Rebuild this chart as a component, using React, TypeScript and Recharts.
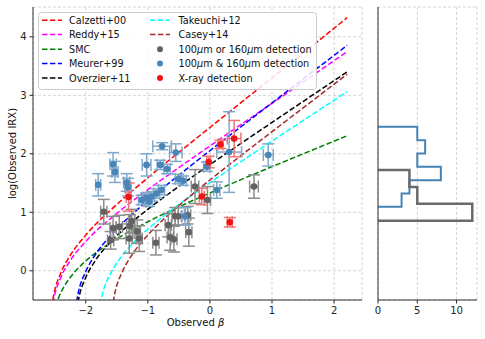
import React from 'react';
import { ComposedChart, Line, Scatter, XAxis, YAxis, CartesianGrid, ErrorBar, Legend, Label } from 'recharts';

// ---------- axis ticks ----------
const xTicks = [-2, -1, 0, 1, 2];
const yTicks = [0, 1, 2, 3, 4];
const histXTicks = [0, 5, 10];
const histYTicks = [1, 2, 3, 4, 5];

// ---------- model curves (beta, log IRX) ----------
const calzettiBeta = [-2.57, -2.52, -2.4, -2.25, -2.0, -1.5, -1.0, -0.5, 0, 0.5, 1.0, 1.5, 2.21];
const calzettiIRX = [-0.767, -0.435, -0.035, 0.262, 0.609, 1.134, 1.59, 2.024, 2.45, 2.874, 3.297, 3.719, 4.327];
const reddyBeta = [-2.57, -2.51, -2.4, -2.25, -2.0, -1.5, -1.0, -0.5, 0, 0.5, 1.0, 1.5, 2.21];
const reddyIRX = [-0.818, -0.453, -0.11, 0.174, 0.501, 0.981, 1.386, 1.765, 2.134, 2.5, 2.863, 3.226, 3.747];
const smcBeta = [-2.52, -2.45, -2.35, -2.2, -2.0, -1.75, -1.5, -1.0, -0.5, 0, 0.5, 1.0, 1.5, 2.21];
const smcIRX = [-0.742, -0.495, -0.273, -0.048, 0.168, 0.375, 0.547, 0.838, 1.093, 1.33, 1.558, 1.78, 1.999, 2.307];
const meurerBeta = [-2.19, -2.12, -2.0, -1.85, -1.6, -1.25, -1.0, -0.5, 0, 0.5, 1.0, 1.5, 2.21];
const meurerIRX = [-0.803, -0.373, -0.013, 0.268, 0.602, 0.969, 1.201, 1.635, 2.052, 2.462, 2.87, 3.277, 3.853];
const overzierBeta = [-2.17, -2.1, -2.0, -1.85, -1.6, -1.25, -1.0, -0.5, 0, 0.5, 1.0, 1.5, 2.21];
const overzierIRX = [-0.807, -0.411, -0.114, 0.168, 0.492, 0.837, 1.051, 1.443, 1.815, 2.177, 2.536, 2.894, 3.4];
const takeuchiBeta = [-1.81, -1.74, -1.6, -1.45, -1.2, -1.0, -0.5, 0, 0.5, 1.0, 1.5, 2.21];
const takeuchiIRX = [-0.847, -0.437, -0.049, 0.207, 0.512, 0.71, 1.131, 1.507, 1.866, 2.218, 2.567, 3.061];
const caseyBeta = [-1.6, -1.53, -1.4, -1.25, -1.0, -0.75, -0.5, 0, 0.5, 1.0, 1.5, 2.21];
const caseyIRX = [-0.806, -0.376, 0.007, 0.28, 0.61, 0.876, 1.114, 1.552, 1.969, 2.378, 2.784, 3.359];

// ---------- galaxies ----------
const grayBeta = [-1.71, -1.56, -1.6, -1.46, -1.29, -1.3, -1.26, -1.17, -1.14, -0.87, -0.67, -0.64, -0.58, -0.56, -0.51, -0.36, -0.34, -0.24, -0.04, 0.71];
const grayIRX = [1.01, 0.73, 0.52, 0.75, 0.76, 0.55, 0.85, 0.67, 0.55, 0.48, 0.78, 0.57, 0.54, 0.93, 0.93, 0.95, 0.66, 1.44, 1.21, 1.44];
const grayBetaErr = [0.05, 0.05, 0.05, 0.05, 0.05, 0.05, 0.05, 0.05, 0.05, 0.05, 0.05, 0.05, 0.05, 0.05, 0.05, 0.05, 0.05, 0.06, 0.05, 0.07];
const grayIRXErr = [0.21, 0.2, 0.15, 0.2, 0.2, 0.25, 0.2, 0.2, 0.22, 0.21, 0.2, 0.22, 0.22, 0.15, 0.15, 0.15, 0.24, 0.29, 0.23, 0.2];

const blueBeta = [-1.8, -1.56, -1.53, -1.34, -1.32, -1.02, -0.77, -0.8, -0.69, -0.55, -0.51, -0.43, -1.1, -1.03, -0.98, -0.94, -0.86, -0.78, -0.05, 0.31, 0.11, 0.94, -0.4];
const blueIRX = [1.47, 1.82, 1.69, 1.51, 1.43, 1.81, 2.13, 1.81, 1.74, 2.02, 1.57, 1.54, 1.21, 1.25, 1.18, 1.27, 1.32, 1.38, 1.78, 2.03, 1.38, 1.98, 0.93];
const blueBetaErr = [0.04, 0.05, 0.05, 0.05, 0.05, 0.07, 0.15, 0.05, 0.05, 0.1, 0.05, 0.05, 0.05, 0.05, 0.05, 0.05, 0.05, 0.05, 0.05, 0.2, 0.05, 0.08, 0.05];
const blueIRXErr = [0.19, 0.2, 0.18, 0.15, 0.15, 0.19, 0.06, 0.08, 0.08, 0.15, 0.08, 0.08, 0.08, 0.08, 0.08, 0.08, 0.08, 0.08, 0.08, 0.69, 0.14, 0.19, 0.15];

const redBeta = [-1.31, 0.17, 0.39, -0.02, -0.13, 0.32];
const redIRX = [1.26, 2.16, 2.26, 1.86, 1.27, 0.83];
const redBetaErr = [0.04, 0.04, 0.11, 0.03, 0.04, 0.04];
const redIRXErr = [0.24, 0.07, 0.31, 0.1, 0.14, 0.08];

// ---------- histograms ----------
const blueHistEdges = [1.75, 2.0, 2.25, 2.5, 2.75, 3.0, 3.25];
const blueHistCounts = [3, 4, 8, 5, 6, 5];
const grayHistEdges = [1.488, 1.805, 2.122, 2.439];
const grayHistCounts = [12, 5, 4];

// ---------- builders ----------
const zip = (xs: number[], ys: number[]) => xs.map((x, i) => ({ x, y: ys[i] }));
const points = (xs: number[], ys: number[], exs: number[], eys: number[]) =>
  xs.map((x, i) => ({ x, y: ys[i], ex: exs[i], ey: eys[i] }));
const stepOutline = (edges: number[], counts: number[]) => {
  const pts: { x: number; y: number }[] = [{ x: 0, y: edges[0] }];
  counts.forEach((c, i) => {
    pts.push({ x: c, y: edges[i] });
    pts.push({ x: c, y: edges[i + 1] });
  });
  pts.push({ x: 0, y: edges[edges.length - 1] });
  return pts;
};

const curves = [
  { name: 'Calzetti+00', color: '#ff0000', data: zip(calzettiBeta, calzettiIRX) },
  { name: 'Reddy+15', color: '#ff00ff', data: zip(reddyBeta, reddyIRX) },
  { name: 'SMC', color: '#008000', data: zip(smcBeta, smcIRX) },
  { name: 'Meurer+99', color: '#0000ff', data: zip(meurerBeta, meurerIRX) },
  { name: 'Overzier+11', color: '#000000', data: zip(overzierBeta, overzierIRX) },
  { name: 'Takeuchi+12', color: '#00ffff', data: zip(takeuchiBeta, takeuchiIRX) },
  { name: 'Casey+14', color: '#a52a2a', data: zip(caseyBeta, caseyIRX) },
];

const groups = [
  { name: 'gray', color: '#626262', err: '#8c8c8c', data: points(grayBeta, grayIRX, grayBetaErr, grayIRXErr) },
  { name: 'blue', color: '#4a85b7', err: '#7fa8cd', data: points(blueBeta, blueIRX, blueBetaErr, blueIRXErr) },
  { name: 'red', color: '#f01414', err: '#f27474', data: points(redBeta, redIRX, redBetaErr, redIRXErr) },
];

const fmt = (v: number) => (v < 0 ? `\u2212${Math.abs(v)}` : `${v}`);
const FONT = 'DejaVu Sans, sans-serif';
const tickStyle = { fontSize: 10, fill: '#222', fontFamily: FONT };
const SPINE = '#333';
const GRID = '#d4d4d4';

const renderLegend = () => {
  const rowY = [8.3, 22.6, 37.3, 51.6, 66];
  const col1 = curves.slice(0, 5);
  const col2 = curves.slice(5);
  const markers = [
    { color: groups[0].color, parts: ['100', 'm or 160', 'm detection'] },
    { color: groups[1].color, parts: ['100', 'm & 160', 'm detection'] },
    { color: groups[2].color, parts: null as null | string[], text: 'X-ray detection' },
  ];
  const ts = { fontSize: 9.7, fill: '#111', fontFamily: FONT };
  return (
    <svg width={279} height={78} style={{ display: 'block' }}>
      <rect x={0.5} y={0.5} width={278} height={77} rx={3} fill="rgba(255,255,255,0.85)" stroke="#cccccc" />
      {col1.map((c, i) => (
        <g key={c.name}>
          <line x1={4} x2={24} y1={rowY[i]} y2={rowY[i]} stroke={c.color} strokeWidth={1.5} strokeDasharray="5.5 2.4" />
          <text x={31} y={rowY[i] + 3.5} {...ts}>{c.name}</text>
        </g>
      ))}
      {col2.map((c, i) => (
        <g key={c.name}>
          <line x1={112} x2={132} y1={rowY[i]} y2={rowY[i]} stroke={c.color} strokeWidth={1.5} strokeDasharray="5.5 2.4" />
          <text x={140.5} y={rowY[i] + 3.5} {...ts}>{c.name}</text>
        </g>
      ))}
      {markers.map((m, i) => (
        <g key={i}>
          <circle cx={122} cy={rowY[i + 2]} r={3} fill={m.color} />
          <text x={140.5} y={rowY[i + 2] + 3.5} {...ts}>
            {m.parts ? (
              <>
                {m.parts[0]}<tspan fontStyle="italic">μ</tspan>{m.parts[1]}<tspan fontStyle="italic">μ</tspan>{m.parts[2]}
              </>
            ) : (
              m.text
            )}
          </text>
        </g>
      ))}
    </svg>
  );
};

const XLabel = (props: any) => {
  const vb = props.viewBox || { x: 33, y: 300, width: 329, height: 39 };
  return (
    <text x={vb.x + vb.width / 2 - 2} y={vb.y + 26} textAnchor="middle" fontSize={10} fill="#111" fontFamily={FONT}>
      Observed <tspan fontStyle="italic">β</tspan>
    </text>
  );
};

const YLabel = (props: any) => {
  const vb = props.viewBox || { x: 0, y: 7, width: 33, height: 293 };
  const cx = vb.x + 16;
  const cy = vb.y + vb.height / 2;
  return (
    <text x={cx} y={cy} transform={`rotate(-90 ${cx} ${cy})`} textAnchor="middle" fontSize={10} fill="#111" fontFamily={FONT}>
      log(Observed IRX)
    </text>
  );
};

const makeShape = (color: string) => (p: any) => <circle cx={p.cx} cy={p.cy} r={3.3} fill={color} />;

export default function App() {
  const xDomain: [number, number] = [-2.85, 2.45];
  const yDomain: [number, number] = [-0.5, 4.51];
  return (
    <div style={{ position: 'absolute', left: 0, top: 0, width: 485, height: 339, background: '#fff', fontFamily: FONT }}>
      <div style={{ position: 'absolute', left: 0, top: 0 }}>
        <ComposedChart width={370} height={339} margin={{ top: 7, right: 8, bottom: 0, left: 0 }}>
          <CartesianGrid stroke={GRID} strokeDasharray="3 2" />
          <XAxis
            dataKey="x"
            type="number"
            domain={xDomain}
            ticks={xTicks}
            interval={0}
            allowDataOverflow
            height={39}
            tickSize={3.5}
            tickMargin={3.5}
            tickFormatter={fmt}
            tick={tickStyle}
            stroke={SPINE}
            tickLine={{ stroke: '#222' }}
          >
            <Label content={XLabel} />
          </XAxis>
          <YAxis
            dataKey="y"
            type="number"
            domain={yDomain}
            ticks={yTicks}
            interval={0}
            allowDataOverflow
            width={33}
            tickSize={3.5}
            tickMargin={2.8}
            tickFormatter={fmt}
            tick={tickStyle}
            stroke={SPINE}
            tickLine={{ stroke: '#222' }}
          >
            <Label content={YLabel} />
          </YAxis>
          <XAxis xAxisId="top" orientation="top" type="number" domain={xDomain} allowDataOverflow height={0} tick={false} tickLine={false} stroke={SPINE} />
          <YAxis yAxisId="right" orientation="right" type="number" domain={yDomain} allowDataOverflow width={0} tick={false} tickLine={false} stroke={SPINE} />
          {curves.map((c) => (
            <Line
              key={c.name}
              name={c.name}
              data={c.data}
              dataKey="y"
              type="monotone"
              stroke={c.color}
              strokeWidth={1.5}
              strokeDasharray="5.5 2.4"
              dot={false}
              activeDot={false}
              isAnimationActive={false}
            />
          ))}
          {groups.map((g) => (
            <Scatter key={g.name} name={g.name} data={g.data} shape={makeShape(g.color)} isAnimationActive={false}>
              <ErrorBar dataKey="ex" direction="x" width={6} stroke={g.err} strokeWidth={1.5} isAnimationActive={false} />
              <ErrorBar dataKey="ey" direction="y" width={6} stroke={g.err} strokeWidth={1.5} isAnimationActive={false} />
            </Scatter>
          ))}
          <Legend
            layout="vertical"
            align="center"
            verticalAlign="middle"
            content={renderLegend}
            wrapperStyle={{ left: 37.5, top: 11.5, width: 279, height: 78, margin: 0, padding: 0 }}
          />
        </ComposedChart>
      </div>
      <div style={{ position: 'absolute', left: 370, top: 0 }}>
        <ComposedChart width={115} height={339} margin={{ top: 7, right: 8, bottom: 0, left: 0 }}>
          <CartesianGrid stroke={GRID} strokeDasharray="3 2" />
          <XAxis
            dataKey="x"
            type="number"
            domain={[0, 12.6]}
            ticks={histXTicks}
            interval={0}
            allowDataOverflow
            height={39}
            tickSize={3.5}
            tickMargin={3.5}
            tick={tickStyle}
            stroke={SPINE}
            tickLine={{ stroke: '#222' }}
          />
          <YAxis
            type="number"
            domain={[0, 5.5]}
            ticks={histYTicks}
            interval={0}
            allowDataOverflow
            width={8}
            tickSize={3.5}
            tick={false}
            stroke={SPINE}
            tickLine={{ stroke: '#222' }}
          />
          <XAxis xAxisId="top" orientation="top" type="number" domain={[0, 12.6]} height={0} tick={false} tickLine={false} stroke={SPINE} />
          <YAxis yAxisId="right" orientation="right" type="number" domain={[0, 5.5]} width={0} tick={false} tickLine={false} stroke={SPINE} />
          <Line
            data={stepOutline(blueHistEdges, blueHistCounts)}
            dataKey="y"
            type="linear"
            stroke="#4682b4"
            strokeWidth={2}
            dot={false}
            activeDot={false}
            isAnimationActive={false}
          />
          <Line
            data={stepOutline(grayHistEdges, grayHistCounts)}
            dataKey="y"
            type="linear"
            stroke="#6a6a6a"
            strokeWidth={2.5}
            dot={false}
            activeDot={false}
            isAnimationActive={false}
          />
        </ComposedChart>
      </div>
    </div>
  );
}
